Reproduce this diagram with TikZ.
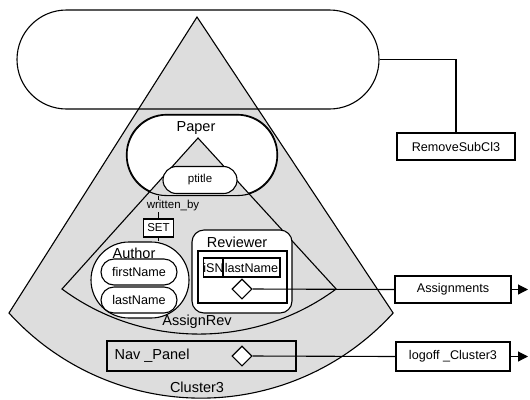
\documentclass[tikz,border=0pt]{standalone}
\usepackage{fontspec}
\setmainfont{Liberation Sans}
\usetikzlibrary{shapes.geometric,arrows.meta}
\definecolor{sgray}{RGB}{221,221,221}
\begin{document}
\begin{tikzpicture}[x=1bp,y=-1bp, line width=1.1bp,
  big/.style={font=\fontsize{14.5bp}{17bp}\selectfont},
  med/.style={font=\fontsize{12.6bp}{15bp}\selectfont},
  small/.style={font=\fontsize{11.5bp}{14bp}\selectfont},
  box/.style={draw, fill=white, rectangle, inner sep=0pt},
  lbl/.style={inner sep=0pt},
  dia/.style={draw, fill=white, diamond, inner sep=0pt, minimum width=20bp, minimum height=20bp},
  arr/.style={-{Triangle[length=10bp,width=10bp]}}]
\useasboundingbox (0,0) rectangle (530,399);
% Cluster3 sector
\path[draw, fill=sgray] (197,17) -- (9,313) arc[start angle=137.8, end angle=42.2, radius=259.3] -- cycle;
% top stadium
\node[draw, rounded corners=49.5bp, minimum width=362bp, minimum height=99bp] (top) at (198,59.5) {};
% Paper
\node[draw, fill=white, rounded corners=40bp, minimum width=150bp, minimum height=80bp] (paper) at (202,155) {};
% AssignRev sector
\path[draw, fill=sgray] (198,138) -- (62,289) arc[start angle=126.4, end angle=53.6, radius=231] -- cycle;
\draw[rounded corners=40bp] (paper.south west) rectangle (paper.north east);
\node[big, lbl] (paperlbl) at (196,128) {Paper};
\node[box, small, rounded corners=13.5bp, minimum width=74bp, minimum height=27bp] (ptitle) at (200,180) {ptitle};
% SET and written_by
\node[box, small, minimum width=30bp, minimum height=18bp] (set) at (158.5,228) {SET};
\draw (set.north) -- (set.north |- paper.south);
\node[small, fill=sgray, inner sep=1bp] (wb) at (173,206) {written\_by};
% Author
\node[draw, fill=white, rounded corners=38bp, minimum width=98bp, minimum height=76bp] (author) at (140,280) {};
\draw (set.south) -- (set.south |- author.north);
\node[big, lbl] (authorlbl) at (134,253) {Author};
\node[box, med, rounded corners=13bp, minimum width=76bp, minimum height=26bp] (fn) at (139,272) {firstName};
\node[box, med, rounded corners=13bp, minimum width=76bp, minimum height=26bp] (ln) at (139,300) {lastName};
% Reviewer
\node[draw, fill=white, rounded corners=12bp, minimum width=100bp, minimum height=83bp] (rev) at (242,271.5) {};
\node[big, lbl] (revlbl) at (237,242) {Reviewer};
\node[draw, minimum width=89bp, minimum height=52bp] (revin) at (242.5,277) {};
\node[box, med, minimum width=19bp, minimum height=19bp] (isn) at (213.5,267.5) {iSN};
\node[box, med, minimum width=57bp, minimum height=19bp] (ln2) at (251.5,267.5) {lastName};
\node[dia] (d1) at (242,289) {};
% Assignments
\node[box, med, minimum width=116bp, minimum height=27bp] (assign) at (453,289.5) {Assignments};
\draw (d1.east) -- (assign.west);
\coordinate (a1) at (528,289.5);
\draw[arr] (assign.east) -- (a1);
\node[big, lbl] (arlbl) at (197,322) {AssignRev};
% Nav panel
\node[draw, minimum width=189bp, minimum height=30bp] (nav) at (201.5,356) {};
\node[big, lbl, anchor=west] (navlbl) at (114,356) {Nav \_Panel};
\node[dia] (d2) at (242,356) {};
\node[box, med, minimum width=114bp, minimum height=29bp] (logoff) at (453,356.5) {logoff \_Cluster3};
\draw (d2.east) -- (logoff.west);
\coordinate (a2) at (528,356.5);
\draw[arr] (logoff.east) -- (a2);
\node[big, lbl] (cllbl) at (197,387) {Cluster3};
% RemoveSubCl3
\node[box, med, minimum width=118bp, minimum height=27bp] (rm) at (456,146.5) {RemoveSubCl3};
\draw (top.east) -| (rm.north);
\end{tikzpicture}
\end{document}
